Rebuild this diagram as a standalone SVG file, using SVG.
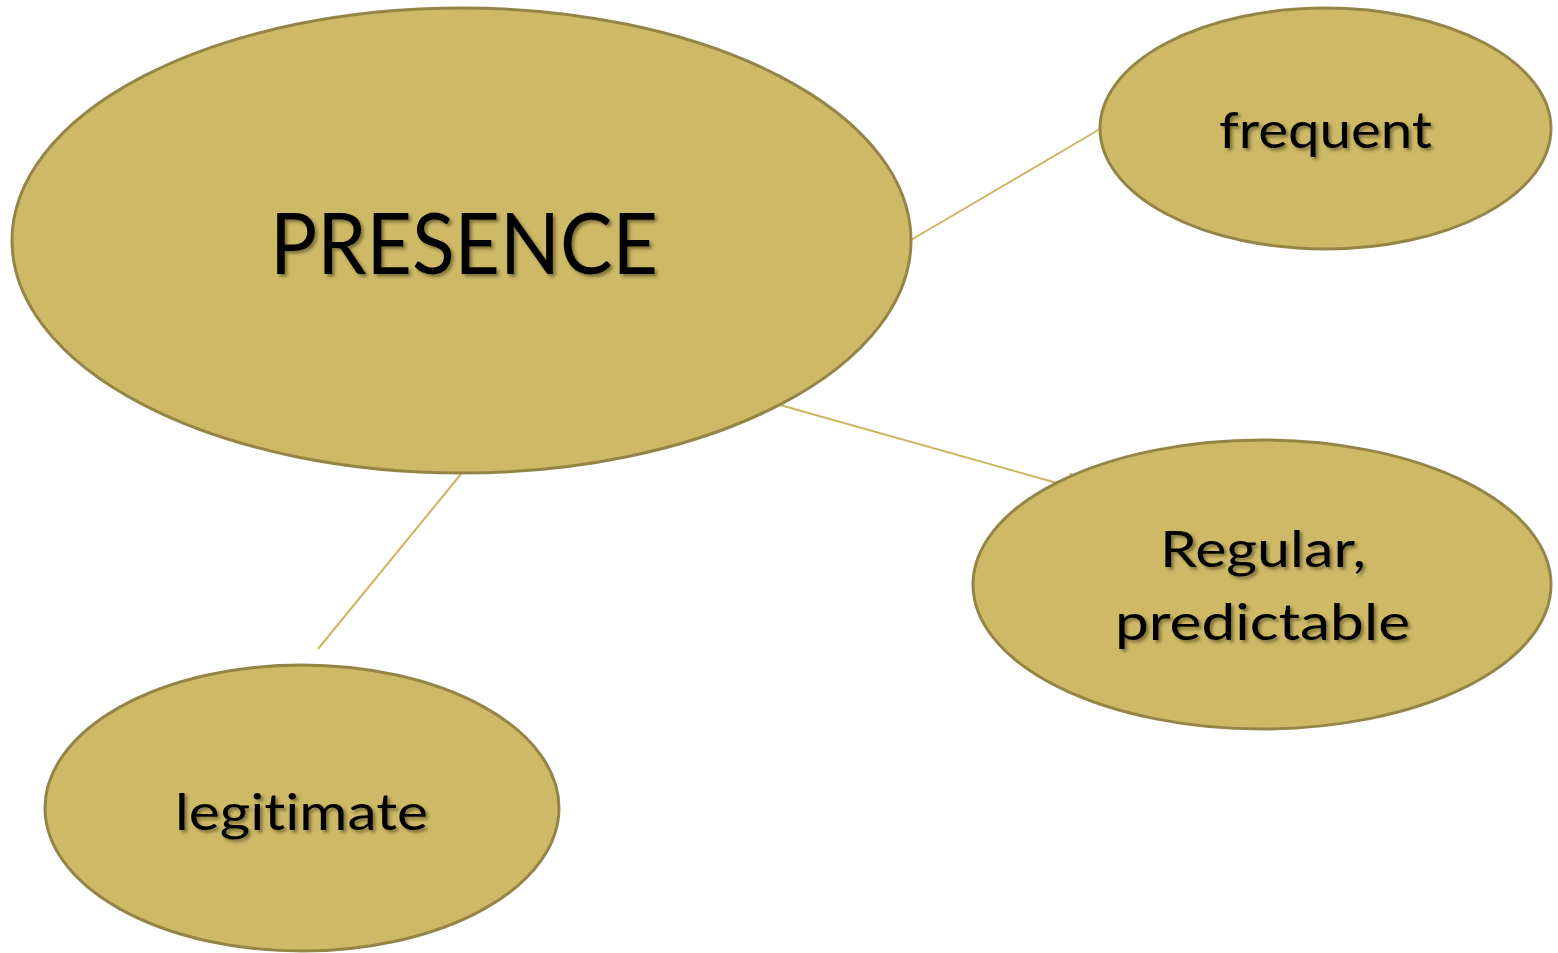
<svg xmlns="http://www.w3.org/2000/svg" width="1558" height="953" viewBox="0 0 1558 953">
  <style>
    .node { fill: #CEB967; stroke: #948546; stroke-width: 3; }
    .link { stroke: #CCB561; stroke-width: 2; fill: none; }
    .label { font-family: "Lato", "Noto Sans", "Liberation Sans", sans-serif; fill: #000; text-anchor: middle; filter: url(#shadow); font-variant-ligatures: none; }
  </style>
  <defs>
    <filter id="shadow" x="-10%" y="-20%" width="120%" height="150%">
      <feDropShadow dx="2.5" dy="2.5" stdDeviation="1.5" flood-color="#3a3418" flood-opacity="0.55"/>
    </filter>
  </defs>
  <rect width="1558" height="953" fill="#FFFFFF"/>

  <g id="connectors">
    <line class="link" x1="911" y1="240" x2="1100" y2="129"/>
    <line class="link" x1="780" y1="405" x2="1057" y2="483"/>
    <line class="link" x1="1070" y1="473" x2="1074" y2="478"/>
    <line class="link" x1="461" y1="474" x2="318" y2="649"/>
  </g>

  <g id="presence">
    <ellipse class="node" cx="461.5" cy="240.5" rx="449.5" ry="232.5"/>
    <text class="label" x="464" y="274" font-size="86" textLength="388" lengthAdjust="spacingAndGlyphs">PRESENCE</text>
  </g>

  <g id="frequent">
    <ellipse class="node" cx="1325.5" cy="128.5" rx="225.5" ry="120.5"/>
    <text class="label" x="1325.5" y="148" font-size="50" textLength="213" lengthAdjust="spacingAndGlyphs">frequent</text>
  </g>

  <g id="regular">
    <ellipse class="node" cx="1262" cy="584.5" rx="289" ry="144.5"/>
    <text class="label" x="1263" y="567" font-size="51" textLength="206" lengthAdjust="spacingAndGlyphs">Regular,</text>
    <text class="label" x="1262.5" y="640" font-size="51" textLength="295" lengthAdjust="spacingAndGlyphs">predictable</text>
  </g>

  <g id="legitimate">
    <ellipse class="node" cx="302" cy="808" rx="257" ry="143"/>
    <text class="label" x="301.5" y="830" font-size="51" textLength="253" lengthAdjust="spacingAndGlyphs">legitimate</text>
  </g>
</svg>
